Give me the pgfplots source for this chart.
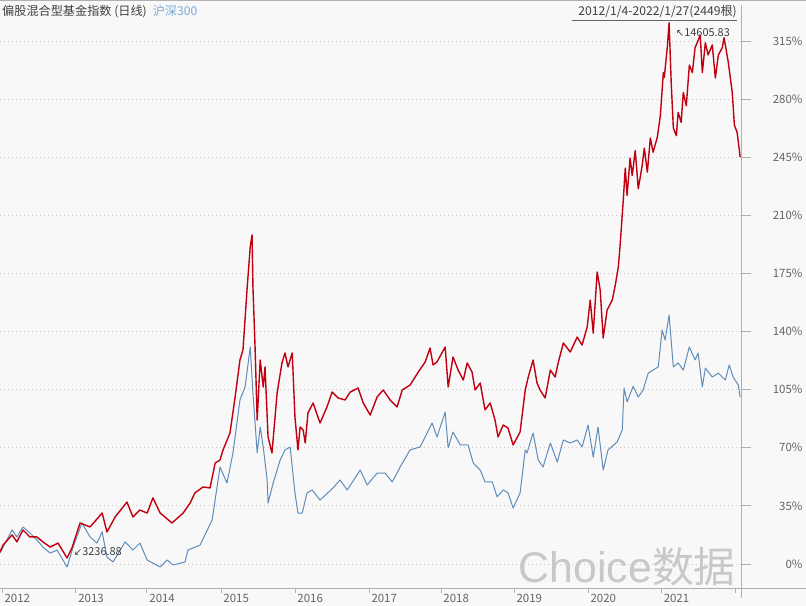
\documentclass[border=0pt]{standalone}
\usepackage{pgfplots}
\pgfplotsset{compat=1.18}
\usepackage{pgfplotstable}
\usepackage{fontspec}
\setmainfont{Noto Sans CJK SC}
\newfontfamily\arial{Liberation Sans}
\newfontfamily\sym{DejaVu Sans}

\definecolor{bg}{RGB}{248,248,248}
\definecolor{fundred}{RGB}{192,0,16}
\definecolor{hsblue}{RGB}{96,140,186}
\definecolor{axisgray}{RGB}{176,176,176}
\definecolor{gridgray}{RGB}{200,200,200}
\definecolor{labelgray}{RGB}{100,100,100}
\definecolor{titleblue}{RGB}{120,170,215}
\definecolor{wm}{RGB}{200,200,200}

% x: trading day index (0 = 2012/1/4, 2449 = 2022/1/27), y: change in %
\pgfplotstableread{
day pct
0 7.2
10 11.4
40 17.5
56 13.3
76 20.5
99 16.3
122 16.3
142 13.3
166 10.2
192 12.6
222 3.6
238 9.6
265 24.7
298 22.3
338 30.7
354 19.3
381 28.3
420 37.3
440 28.3
463 32.5
487 30.7
506 39.8
530 30.7
569 24.7
606 30.7
629 36.7
645 42.8
672 46.4
695 45.8
712 60.8
728 62.6
738 68.7
761 78.9
778 100.6
794 122.9
804 128.9
818 166.8
828 190.9
834 198.2
837 166.8
844 130.7
851 86.7
861 122.9
871 106.6
877 118.7
887 76.5
900 66.9
917 103.0
933 121.1
943 127.1
953 118.7
967 127.1
976 88.5
986 68.7
993 82.5
1003 80.7
1010 72.9
1019 90.9
1036 97.0
1059 84.9
1082 94.6
1099 103.6
1119 100.0
1142 98.8
1159 103.6
1185 106.0
1202 97.0
1225 89.7
1248 100.6
1268 104.8
1291 98.8
1314 94.6
1331 104.8
1357 107.8
1384 115.6
1407 121.7
1423 130.1
1433 119.9
1446 121.7
1473 130.7
1483 106.6
1499 124.7
1516 116.8
1533 110.8
1546 121.1
1562 115.6
1572 104.8
1589 109.0
1605 92.8
1622 97.0
1638 86.7
1648 76.5
1665 83.7
1681 81.9
1698 71.7
1721 79.5
1738 104.8
1748 112.6
1764 122.9
1777 109.0
1787 104.8
1804 100.0
1821 116.8
1837 112.6
1847 121.1
1864 133.1
1887 127.7
1910 136.7
1926 131.9
1943 142.7
1953 159.0
1963 139.1
1976 175.9
1986 165.0
1996 136.1
2009 153.0
2026 159.0
2036 168.0
2046 178.9
2052 192.1
2062 218.0
2069 238.5
2075 222.0
2085 244.5
2092 234.0
2102 249.0
2112 226.0
2125 240.0
2132 250.5
2142 236.0
2152 256.6
2161 248.0
2175 257.0
2185 270.0
2195 296.0
2198 293.0
2208 311.0
2214 326.0
2221 290.0
2228 262.6
2238 258.0
2244 272.0
2254 266.0
2261 284.0
2271 276.0
2281 300.5
2291 296.0
2300 311.0
2307 314.0
2317 318.6
2324 296.0
2334 314.0
2343 306.6
2357 312.6
2367 292.7
2377 306.6
2390 311.0
2396 317.0
2410 302.0
2423 284.0
2430 264.4
2439 260.0
2446 250.0
2449 245.1
}\fundtable

\pgfplotstableread{
day pct
0 6.6
40 20.5
56 16.3
76 22.3
99 18.7
122 14.5
142 10.2
166 6.6
189 8.4
222 -1.8
242 10.2
271 24.7
298 16.3
321 12.6
338 19.3
354 4.2
374 1.2
414 13.3
440 8.4
463 12.6
487 2.4
530 -1.8
553 2.4
573 -0.6
612 1.2
622 8.4
662 11.4
702 26.5
728 58.4
751 48.8
771 66.9
794 98.8
811 106.6
828 130.7
837 103.0
851 66.9
861 82.5
871 70.5
884 50.6
887 36.7
904 48.8
927 62.6
943 68.7
960 70.5
976 42.8
986 30.7
1000 30.7
1016 42.8
1033 44.6
1059 38.5
1102 45.8
1125 50.6
1149 44.6
1192 56.6
1215 47.6
1248 54.8
1274 54.8
1298 49.4
1324 58.4
1357 68.7
1390 70.5
1430 84.9
1446 76.5
1473 91.5
1483 69.9
1499 79.5
1523 71.7
1549 71.7
1566 60.8
1589 56.6
1605 49.4
1629 49.4
1645 40.4
1665 44.6
1681 42.8
1698 33.7
1721 42.8
1738 68.7
1744 66.9
1764 78.9
1781 62.6
1797 58.4
1821 72.9
1844 61.4
1864 74.7
1887 72.9
1910 74.7
1926 70.5
1946 83.7
1963 64.4
1979 82.5
1996 56.6
2012 68.7
2042 73.5
2059 80.7
2065 106.0
2075 97.6
2095 107.0
2112 100.6
2128 104.8
2145 115.0
2161 116.8
2178 118.7
2191 140.9
2201 134.9
2214 150.0
2228 118.7
2244 121.1
2261 116.8
2281 130.7
2300 122.9
2310 127.1
2324 106.6
2334 118.0
2357 112.6
2377 115.0
2400 110.8
2413 119.9
2426 112.6
2443 107.8
2449 100.6
}\hstable

\begin{document}
\begin{tikzpicture}[x=1bp,y=1bp]
\fill[bg] (0,0) rectangle (806,606);
\path[use as bounding box] (0,0) rectangle (806,606);
\draw[axisgray, line width=0.8bp] (0,605.5) -- (806,605.5);

\begin{axis}[
  at={(0bp,42bp)}, anchor=origin,
  scale only axis,
  width=741bp, height=583bp,
  xmin=0, xmax=2452,
  ymin=-14.46, ymax=336.7,
  axis x line*=bottom,
  axis y line*=right,
  axis line style={axisgray, line width=0.8bp},
  tick align=outside,
  major tick length=10bp,
  tick style={axisgray, line width=0.8bp},
  xtick={7,251,486,731,976,1221,1459,1701,1946,2188,2432},
  xticklabels={2012,2013,2014,2015,2016,2017,2018,2019,2020,2021,},
  xtick style={/pgfplots/major tick length=5bp},
  xticklabel style={anchor=north west, xshift=-1bp, yshift=7bp,
    font=\fontsize{11.5}{12}\selectfont, text=labelgray},
  ytick={0,35,...,315},
  yticklabel={\pgfmathprintnumber{\tick}\%},
  yticklabel style={anchor=east, xshift=55bp,
    font=\fontsize{11.5}{12}\selectfont, text=labelgray},
  /pgf/number format/assume math mode=true,
  ymajorgrids,
  grid style={gridgray, line width=0.8bp, dash pattern=on 1bp off 3bp},
  clip=false,
]
\addplot[hsblue, line width=1bp, line join=round] table[x=day, y=pct] {\hstable};
\addplot[fundred, line width=1.4bp, line join=round] table[x=day, y=pct] {\fundtable};

\node[anchor=west, text=black!75, font=\fontsize{11}{12}\selectfont, inner sep=0pt]
  at (axis cs:2236,319.8) {{\sym\fontsize{10}{12}\selectfont ↖}14605.83};
\node[anchor=west, text=black!75, font=\fontsize{11}{12}\selectfont, inner sep=0pt]
  at (axis cs:244,7.2) {{\sym\fontsize{10}{12}\selectfont ↙}3236.88};
\end{axis}

\draw[axisgray, line width=0.8bp] (741,18) -- (806,18);
\draw[axisgray, line width=0.8bp] (741,18) -- (741,8);

\node[anchor=west, inner sep=0pt, font=\fontsize{12.2}{14}\selectfont]
  at (2,594) {\textcolor{black!75}{偏股混合型基金指数 (日线)}\hspace{6bp}\textcolor{titleblue}{沪深300}};
\node[anchor=east, inner sep=0pt, font=\fontsize{12.2}{14}\selectfont, text=black!75]
  at (737,594) {2012/1/4-2022/1/27(2449根)};
\draw[black!60, line width=0.7bp] (572,586) -- (737,586);

\node[anchor=base east, inner sep=0pt, text=wm] at (736,23)
  {{\arial\fontsize{43}{50}\selectfont Choice}{\fontsize{42}{50}\selectfont 数据}};
\end{tikzpicture}
\end{document}
